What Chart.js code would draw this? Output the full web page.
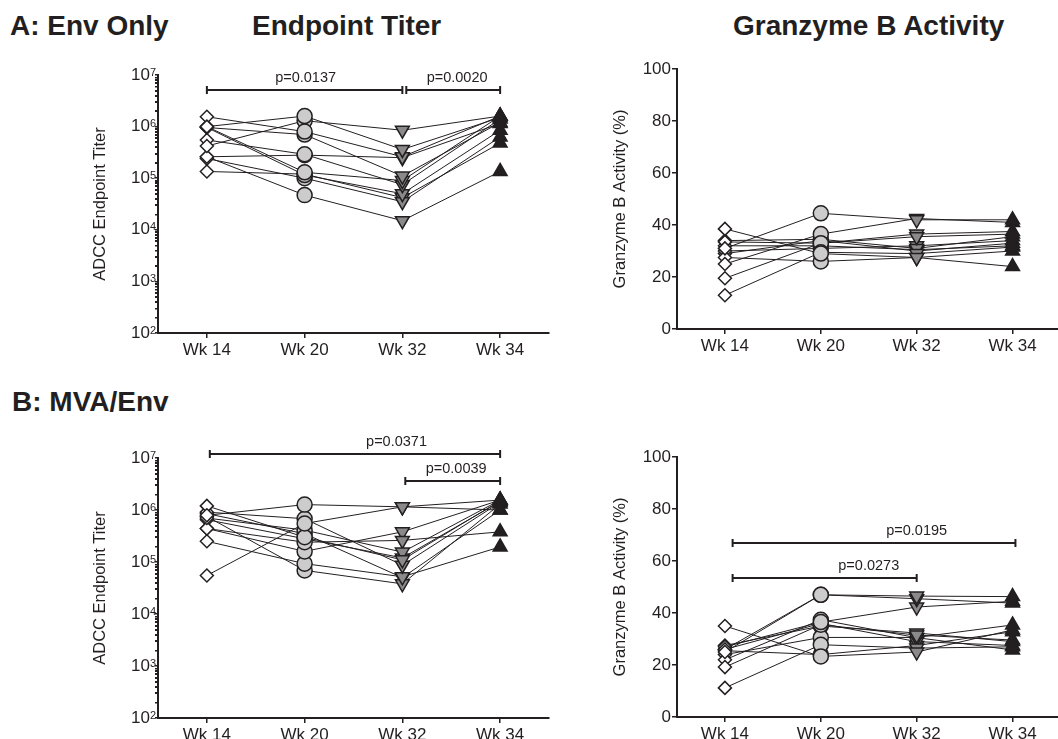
<!DOCTYPE html>
<html>
<head>
<meta charset="utf-8">
<script src="https://cdn.jsdelivr.net/npm/chart.js@4.4.0/dist/chart.umd.min.js"></script>
<style>
  body { margin:0; width:1058px; height:739px; overflow:hidden; background:#fff; position:relative;
         font-family:"Liberation Sans", Arial, sans-serif; color:#231f20; }
  canvas { position:absolute; }
  .hd { position:absolute; font-weight:bold; font-size:28px; line-height:28px; white-space:nowrap; }
</style>
</head>
<body>
<div class="hd" style="left:10px;top:12px">A: Env Only</div>
<div class="hd" style="left:252px;top:12px">Endpoint Titer</div>
<div class="hd" style="left:733px;top:12px">Granzyme B Activity</div>
<div class="hd" style="left:12px;top:388px">B: MVA/Env</div>

<canvas id="envTiter" width="470" height="340" style="left:90px;top:50px"></canvas>
<canvas id="envGzb" width="460" height="342" style="left:610px;top:44px"></canvas>
<canvas id="mvaTiter" width="470" height="357" style="left:90px;top:418px"></canvas>
<canvas id="mvaGzb" width="460" height="357" style="left:610px;top:417px"></canvas>

<script>
var weeks = ['Wk 14', 'Wk 20', 'Wk 32', 'Wk 34'];

// one row per animal: Wk 14, Wk 20, Wk 32, Wk 34
var envTiter = [
  [1.0e6, 1.6e6, 3.6e5, 1.5e6],
  [1.55e6, 8.0e5, 2.6e5, 1.6e6],
  [4.2e5, 1.3e6, 8.5e5, 1.6e6],
  [9.6e5, 7.0e5, 1.1e5, 1.2e6],
  [1.0e6, 1.3e5, 9.0e4, 1.6e6],
  [5.5e5, 2.9e5, 7.5e4, 1.4e6],
  [2.6e5, 2.8e5, 2.5e5, 1.15e6],
  [9.6e5, 1.15e5, 5.0e4, 8.5e5],
  [2.4e5, 1.0e5, 3.5e4, 6.3e5],
  [1.35e5, 1.2e5, 4.2e4, 4.8e5],
  [2.6e5, 4.7e4, 1.5e4, 1.35e5]
];
var envGzb = [
  [31, 44.5, 42, 42],
  [38.5, 29, 27.5, 24],
  [13, 29.5, 29, 31.5],
  [19.5, 33, 35.5, 36.5],
  [25, 36.5, 42.5, 41],
  [27.5, 26, 27.5, 30],
  [33.5, 33, 36.5, 37.5],
  [34, 34.5, 31, 35.5],
  [32, 32, 30.5, 32],
  [30, 31, 32, 34],
  [29, 34, 30, 33]
];
var mvaTiter = [
  [7.9e5, 1.27e6, 1.15e6, 1.0e6],
  [5.5e4, 5.5e5, 1.15e6, 1.55e6],
  [1.2e6, 3.0e5, 1.1e5, 1.5e6],
  [9.1e5, 6.8e5, 8.7e4, 1.4e6],
  [7.0e5, 4.1e5, 1.55e5, 1.55e6],
  [4.4e5, 2.4e5, 2.6e5, 3.8e5],
  [4.4e5, 1.6e5, 3.8e5, 1.55e6],
  [2.5e5, 9.3e4, 5.2e4, 1.95e5],
  [7.5e5, 6.9e4, 3.8e4, 1.3e6],
  [8.5e5, 3.5e5, 5.0e4, 1.0e6],
  [6.5e5, 2.8e5, 1.2e5, 1.45e6]
];
var mvaGzb = [
  [25, 47, 46.5, 46.3],
  [26, 47, 45.5, 43.8],
  [27, 36.5, 42.3, 44.5],
  [35, 23.3, 25, 33.5],
  [11.2, 27.8, 26.5, 27],
  [19.2, 35.5, 31.5, 29.6],
  [22, 37.4, 30.5, 25.8],
  [24, 30.6, 30.6, 35.4],
  [26, 36, 29, 27.5],
  [25.5, 24, 27.5, 32.8],
  [27.5, 35, 32.3, 29]
];

// p-value brackets (x in category index, y in axis units)
var envTiterP = [
  {from: 0, to: 2, y: 5.1e6, at: 1.01, label: 'p=0.0137'},
  {from: 2.04, to: 3, y: 5.1e6, at: 2.56, label: 'p=0.0020'}
];
var envGzbP = [];
var mvaTiterP = [
  {from: 0.03, to: 3, y: 1.2e7, at: 1.94, label: 'p=0.0371'},
  {from: 2.03, to: 3, y: 3.6e6, at: 2.55, label: 'p=0.0039'}
];
var mvaGzbP = [
  {from: 0.08, to: 2, y: 53.5, at: 1.5, label: 'p=0.0273'},
  {from: 0.08, to: 3.03, y: 67, at: 2.0, label: 'p=0.0195'}
];

var ink = '#231f20';
var fam = '"Liberation Sans", Arial, sans-serif';
Chart.defaults.font.family = fam;
Chart.defaults.color = ink;

function subjectSets(rows) {
  return rows.map(function (r) {
    return {
      data: r,
      borderColor: ink,
      borderWidth: 1,
      pointStyle: ['rectRot', 'circle', 'triangle', 'triangle'],
      pointRotation: [0, 0, 180, 0],
      pointRadius: [6.5, 7.5, 8, 8],
      pointBackgroundColor: ['#ffffff', '#cccccc', '#8a8a8a', ink],
      pointBorderColor: ink,
      pointBorderWidth: 1.5,
      clip: false
    };
  });
}

function bracketPlugin(items) {
  return {
    id: 'brackets',
    afterDatasetsDraw: function (chart) {
      var ctx = chart.ctx, x = chart.scales.x, y = chart.scales.y;
      ctx.save();
      ctx.strokeStyle = ink;
      ctx.lineWidth = 2;
      ctx.fillStyle = ink;
      ctx.font = '14.5px ' + fam;
      ctx.textAlign = 'center';
      ctx.textBaseline = 'alphabetic';
      items.forEach(function (b) {
        var x1 = x.getPixelForValue(b.from), x2 = x.getPixelForValue(b.to);
        var yy = Math.round(y.getPixelForValue(b.y));
        ctx.beginPath();
        ctx.moveTo(x1, yy); ctx.lineTo(x2, yy);
        ctx.moveTo(x1, yy - 4); ctx.lineTo(x1, yy + 4);
        ctx.moveTo(x2, yy - 4); ctx.lineTo(x2, yy + 4);
        ctx.stroke();
        ctx.fillText(b.label, x.getPixelForValue(b.at), yy - 8);
      });
      ctx.restore();
    }
  };
}

// superscript exponent for the 10^n labels, plus the minor tick comb
var expPlugin = {
  id: 'exponents',
  afterDraw: function (chart) {
    var y = chart.scales.y;
    if (y.type !== 'logarithmic') return;
    var ctx = chart.ctx, left = chart.chartArea.left;
    ctx.save();
    ctx.font = '11px ' + fam;
    ctx.fillStyle = ink;
    ctx.strokeStyle = ink;
    ctx.lineWidth = 1;
    ctx.textAlign = 'left';
    ctx.textBaseline = 'alphabetic';
    y.ticks.forEach(function (t) {
      var py = y.getPixelForValue(t.value);
      var e = Math.log10(t.value);
      if (Math.abs(e - Math.round(e)) > 1e-6) {
        ctx.beginPath();
        ctx.moveTo(left - 3, Math.round(py) + 0.5);
        ctx.lineTo(left, Math.round(py) + 0.5);
        ctx.stroke();
        return;
      }
      ctx.fillText(String(Math.round(e)), left - 8, py + 0.5);
    });
    ctx.restore();
  }
};

function xAxis() {
  return {
    type: 'category',
    offset: true,
    afterFit: function (s) { s.height = 57; },
    grid: { offset: false, drawOnChartArea: false, tickLength: 5, color: ink, lineWidth: 1.5 },
    border: { display: true, color: ink, width: 2 },
    ticks: { font: { size: 17 }, padding: 2, color: ink }
  };
}

function logAxis(title, w) {
  return {
    type: 'logarithmic',
    min: 1e2, max: 1e7,
    afterFit: function (s) { s.width = w; },
    afterBuildTicks: function (s) {
      var t = [];
      for (var e = 2; e < 7; e++) {
        for (var m = 1; m < 10; m++) t.push({ value: m * Math.pow(10, e), major: m === 1 });
      }
      t.push({ value: 1e7, major: true });
      s.ticks = t;
    },
    grid: { drawOnChartArea: false, tickLength: 3, color: ink, lineWidth: 1.5 },
    border: { display: true, color: ink, width: 2 },
    ticks: {
      autoSkip: false, padding: 5, color: ink, font: { size: 17 },
      callback: function (v) {
        var e = Math.log10(v);
        return Math.abs(e - Math.round(e)) < 1e-6 ? '10' : '';
      }
    },
    title: { display: true, text: title, font: { size: 16.5 }, padding: { top: 1, bottom: 0 }, color: ink }
  };
}

function linAxis(title, w) {
  return {
    type: 'linear',
    min: 0, max: 100,
    afterFit: function (s) { s.width = w; },
    grid: { drawOnChartArea: false, tickLength: 5, color: ink, lineWidth: 1.5 },
    border: { display: true, color: ink, width: 2 },
    ticks: { stepSize: 20, padding: 1, color: ink, font: { size: 17 } },
    title: { display: true, text: title, font: { size: 16.5 }, padding: { top: 1, bottom: 0 }, color: ink }
  };
}

function makePanel(id, rows, yScale, pad, brackets) {
  return new Chart(document.getElementById(id), {
    type: 'line',
    data: { labels: weeks, datasets: subjectSets(rows) },
    options: {
      responsive: false,
      animation: false,
      devicePixelRatio: 1,
      layout: { padding: pad },
      plugins: { legend: { display: false }, tooltip: { enabled: false } },
      scales: { x: xAxis(), y: yScale }
    },
    plugins: [bracketPlugin(brackets), expPlugin]
  });
}

makePanel('envTiter', envTiter, logAxis('ADCC Endpoint Titer', 68), { top: 25, right: 11, left: 0, bottom: 0 }, envTiterP);
makePanel('envGzb', envGzb, linAxis('Granzyme B Activity (%)', 67), { top: 25, right: 4, left: 0, bottom: 0 }, envGzbP);
makePanel('mvaTiter', mvaTiter, logAxis('ADCC Endpoint Titer', 68), { top: 40, right: 11, left: 0, bottom: 0 }, mvaTiterP);
makePanel('mvaGzb', mvaGzb, linAxis('Granzyme B Activity (%)', 67), { top: 40, right: 4, left: 0, bottom: 0 }, mvaGzbP);
</script>
</body>
</html>
